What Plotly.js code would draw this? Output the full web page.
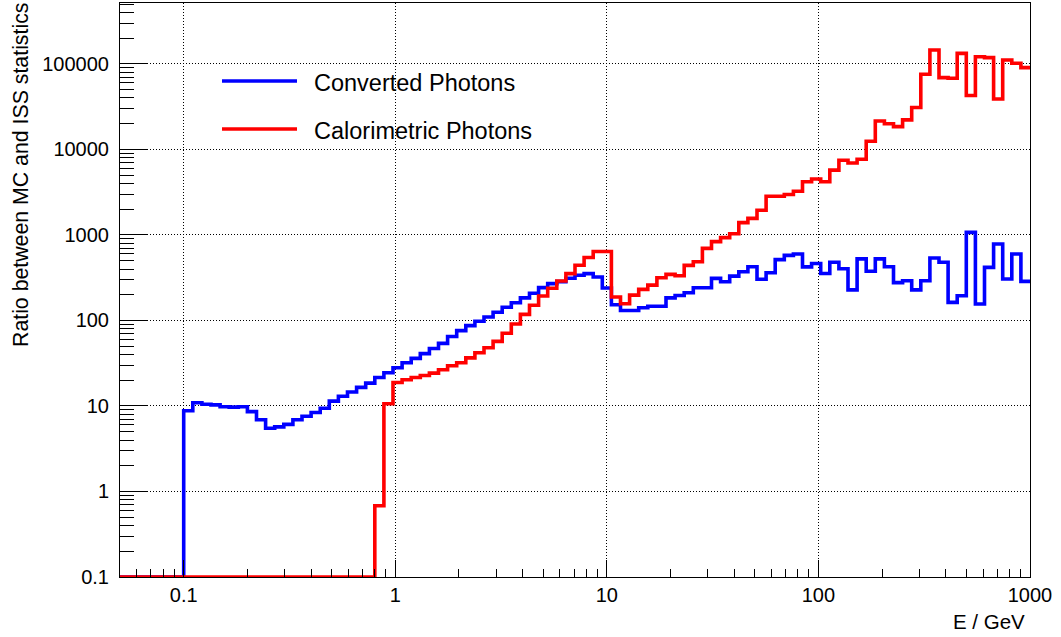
<!DOCTYPE html>
<html>
<head>
<meta charset="utf-8">
<script src="https://cdn.plot.ly/plotly-3.0.1.min.js"></script>
<style>
  html, body { margin: 0; padding: 0; background: #ffffff; }
  #chart { width: 1061px; height: 637px; }
</style>
</head>
<body>
<div id="chart"></div>
<script>
// Histogram binning (ROOT-style log binning): 100 bins from 0.05 to 1000 GeV
const binLow = 0.05;
const binHigh = 1000;
const nBins = 100;

// Ratio between MC and ISS statistics, one value per bin (0 = empty bin)
const convertedPhotons = [
  0, 0, 0, 0, 0, 0, 0, 8.8, 10.9, 10.5,
  10.3, 9.8, 9.7, 9.8, 8.6, 6.9, 5.5, 5.7, 6.1, 6.9,
  7.6, 8.4, 9.4, 11.4, 13.0, 14.6, 16.5, 18.5, 21.5, 24.5,
  28, 32, 36, 41, 47, 54, 65, 76, 87, 98,
  110, 125, 143, 161, 184, 208, 242, 270, 285, 312,
  338, 353, 322, 240, 153, 131, 131, 141, 147, 147,
  184, 196, 211, 241, 241, 311, 284, 330, 371, 425,
  303, 361, 515, 577, 598, 424, 463, 355, 480, 402,
  228, 525, 377, 525, 425, 277, 292, 228, 292, 538,
  479, 163, 195, 1072, 156, 418, 785, 306, 600, 287
];

const calorimetricPhotons = [
  0, 0, 0, 0, 0, 0, 0, 0, 0, 0,
  0, 0, 0, 0, 0, 0, 0, 0, 0, 0,
  0, 0, 0, 0, 0, 0, 0, 0, 0.68, 10.6,
  18.8, 20.3, 21.5, 22.7, 24.2, 26.5, 29.5, 32, 36.5, 42,
  48, 57, 71, 91, 118, 151, 193, 238, 290, 353,
  443, 545, 640, 640, 188, 157, 198, 231, 259, 316,
  346, 333, 441, 487, 698, 836, 931, 1035, 1393, 1565,
  1945, 2840, 2840, 2970, 3250, 4200, 4510, 4200, 5730, 7470,
  6950, 7670, 12480, 21500, 20000, 18500, 22200, 31000, 75900, 145600,
  69200, 68100, 133000, 42800, 121600, 118500, 39000, 111300, 101900, 90600
];

const seriesNames = ['Converted Photons', 'Calorimetric Photons'];
const seriesColors = ['#0000ff', '#ff0000'];

const xAxisTitle = 'E / GeV';
const yAxisTitle = 'Ratio between MC and ISS statistics';
const yMin = 0.1;
const yMaxLog = 5.713;

// bin edges from the histogram definition
const logLow = Math.log10(binLow), logHigh = Math.log10(binHigh);
const edges = [];
for (let i = 0; i <= nBins; i++) edges.push(Math.pow(10, logLow + (logHigh - logLow) * i / nBins));

// ROOT draws empty bins clipped at the bottom of the frame
function stepY(vals) {
  const ys = vals.map(v => (v > 0 ? v : yMin));
  ys.push(ys[ys.length - 1]);
  return ys;
}

const traces = [convertedPhotons, calorimetricPhotons].map((vals, i) => ({
  type: 'scatter',
  mode: 'lines',
  x: edges,
  y: stepY(vals),
  name: seriesNames[i],
  line: { shape: 'hv', color: seriesColors[i], width: 3.6 },
  cliponaxis: false,
  showlegend: false,
  hoverinfo: 'skip'
}));

const FONT = '"Liberation Sans", Arial, Helvetica, sans-serif';
const W = 910, H = 574, L = 120, T = 3;
function px(xp) { return (xp - L) / W; }
function py(yp) { return (T + H - yp) / H; }

const legendRows = [
  { y: 81, ty: 83, name: seriesNames[0], color: seriesColors[0] },
  { y: 129, ty: 131, name: seriesNames[1], color: seriesColors[1] }
];

const shapes = legendRows.map(r => ({
  type: 'line', xref: 'paper', yref: 'paper',
  x0: px(222), x1: px(297), y0: py(r.y), y1: py(r.y),
  line: { color: r.color, width: 3.6 }
}));

const annotations = legendRows.map(r => ({
  xref: 'paper', yref: 'paper', x: px(312), y: py(r.ty),
  xanchor: 'left', yanchor: 'middle', showarrow: false,
  text: r.name, font: { family: FONT, size: 23.5, color: '#000' }
}));
annotations.push({
  xref: 'paper', yref: 'paper', x: 1, y: py(621.5), xshift: -3,
  xanchor: 'right', yanchor: 'middle', showarrow: false,
  text: xAxisTitle, font: { family: FONT, size: 20.5, color: '#000' }
});
annotations.push({
  xref: 'paper', yref: 'paper', x: px(21), y: py(1),
  xanchor: 'center', yanchor: 'top', showarrow: false, textangle: -90,
  text: yAxisTitle, font: { family: FONT, size: 21.3, color: '#000' }
});

const gridDash = '1px,2px';

const layout = {
  width: 1061, height: 637,
  margin: { l: L, r: 31, t: T, b: 60, pad: 0 },
  paper_bgcolor: '#ffffff', plot_bgcolor: '#ffffff',
  font: { family: FONT, size: 20, color: '#000' },
  showlegend: false,
  xaxis: {
    type: 'log', range: [logLow, logHigh], dtick: 1, tickformat: '~g',
    showline: true, linecolor: '#000', linewidth: 1, mirror: true,
    ticks: 'inside', ticklen: 17, tickcolor: '#000', tickwidth: 1,
    showgrid: true, gridcolor: '#000', griddash: gridDash, gridwidth: 1,
    zeroline: false,
    tickfont: { family: FONT, size: 20, color: '#000' },
    minor: { ticks: 'inside', ticklen: 8.5, tickcolor: '#000', dtick: 'D1', showgrid: false }
  },
  yaxis: {
    type: 'log', range: [Math.log10(yMin), yMaxLog], dtick: 1, tickformat: '~g',
    showline: true, linecolor: '#000', linewidth: 1, mirror: true,
    ticks: 'inside', ticklen: 27, tickcolor: '#000', tickwidth: 1,
    showgrid: true, gridcolor: '#000', griddash: gridDash, gridwidth: 1,
    zeroline: false,
    tickfont: { family: FONT, size: 20, color: '#000' },
    ticklabelstandoff: 6,
    minor: { ticks: 'inside', ticklen: 13.5, tickcolor: '#000', dtick: 'D1', showgrid: false }
  },
  shapes: shapes,
  annotations: annotations
};

Plotly.newPlot('chart', traces, layout, { staticPlot: true, displayModeBar: false });
</script>
</body>
</html>
